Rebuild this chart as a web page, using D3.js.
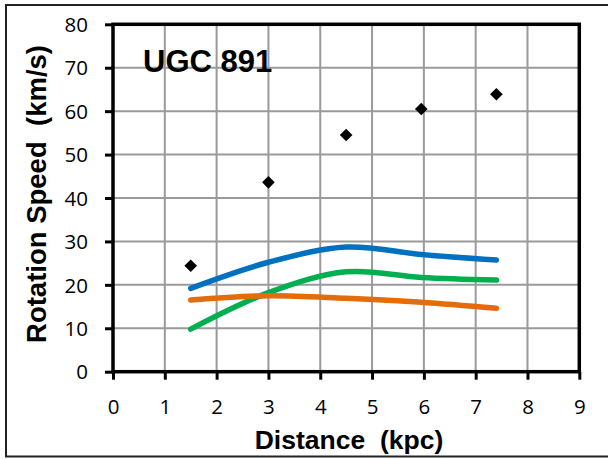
<!DOCTYPE html>
<html><head><meta charset="utf-8">
<script src="https://cdn.jsdelivr.net/npm/d3@7"></script>
<style>
html,body{margin:0;padding:0;background:#fff;}
svg{display:block;}
</style></head>
<body>
<svg id="c" width="608" height="459"></svg>
<script>
const title = "UGC 891";
const xLabel = "Distance  (kpc)";
const yLabel = "Rotation Speed  (km/s)";
const xTicks = [0,1,2,3,4,5,6,7,8,9];
const yTicks = [0,10,20,30,40,50,60,70,80];
const radius = [1.5, 3.0, 4.5, 5.95, 7.4];
const observed = [24.4, 43.6, 54.5, 60.5, 63.9];
const blueCurve = [19.2, 25.2, 28.7, 27.0, 25.7];
const greenCurve = [9.8, 18.2, 23.0, 21.7, 21.1];
const orangeCurve = [16.5, 17.5, 16.9, 16.0, 14.6];

const svg = d3.select("#c");
const L = 113, R = 579.3, T = 24.3, B = 371.7;
const x = d3.scaleLinear().domain([0,9]).range([L,R]);
const y = d3.scaleLinear().domain([0,80]).range([B,T]);

// outer frame
svg.append("rect").attr("x",6).attr("y",5).attr("width",620).attr("height",451.5)
  .attr("fill","none").attr("stroke","#222").attr("stroke-width",2);

// gridlines
const g = svg.append("g");
g.selectAll(".vx").data(xTicks).join("line")
  .attr("x1",d=>x(d)).attr("x2",d=>x(d)).attr("y1",T).attr("y2",B)
  .attr("stroke","#9a9a9a").attr("stroke-width",2);
g.selectAll(".hy").data(yTicks).join("line")
  .attr("x1",L).attr("x2",R).attr("y1",d=>y(d)).attr("y2",d=>y(d))
  .attr("stroke","#9a9a9a").attr("stroke-width",2);

// axes
const xa = svg.append("g").attr("transform",`translate(0,${B})`)
  .call(d3.axisBottom(x).tickValues(xTicks).tickSize(8).tickPadding(20).tickFormat(d3.format("d")));
const ya = svg.append("g").attr("transform",`translate(${L},0)`)
  .call(d3.axisLeft(y).tickValues(yTicks).tickSize(8).tickPadding(17).tickFormat(d3.format("d")));
[xa,ya].forEach(a=>{
  a.select(".domain").remove();
  a.selectAll(".tick line").attr("stroke","#000").attr("stroke-width",3);
  a.selectAll(".tick text").attr("font-family","'Open Sans', Lato, sans-serif")
    .attr("font-size",20.5).attr("fill","#000");
});
xa.selectAll(".tick text").attr("dy","0.71em");
ya.selectAll(".tick text").attr("dy","0.35em");

// plot border
svg.append("rect").attr("x",L).attr("y",T).attr("width",R-L).attr("height",B-T)
  .attr("fill","none").attr("stroke","#000").attr("stroke-width",3.5);

// curves
const line = d3.line().x((d,i)=>x(radius[i])).y(d=>y(d)).curve(d3.curveCatmullRom.alpha(0.5));
[[blueCurve,"#0070C0"],[greenCurve,"#00B050"],[orangeCurve,"#E46C0A"]].forEach(([vals,col])=>{
  svg.append("path").attr("d",line(vals)).attr("fill","none").attr("stroke",col)
    .attr("stroke-width",5.5).attr("stroke-linecap","round").attr("stroke-linejoin","round");
});

// observed points
svg.selectAll(".pt").data(observed).join("path")
  .attr("d",d3.symbol().type(d3.symbolSquare).size(80))
  .attr("transform",(d,i)=>`translate(${x(radius[i])},${y(d)}) rotate(45)`)
  .attr("fill","#000");

// texts
svg.append("text").attr("x",143).attr("y",72).text(title)
  .attr("font-family","'Liberation Sans', Arial, sans-serif").attr("font-weight","bold")
  .attr("font-size",31).attr("fill","#000");
svg.append("text").attr("x",349).attr("y",449).attr("text-anchor","middle").text(xLabel)
  .attr("font-family","'Liberation Sans', Arial, sans-serif").attr("font-weight","bold")
  .attr("font-size",26.5).attr("fill","#000").style("white-space","pre");
svg.append("text").attr("transform","translate(46,194) rotate(-90)").attr("text-anchor","middle").text(yLabel)
  .attr("font-family","'Liberation Sans', Arial, sans-serif").attr("font-weight","bold")
  .attr("font-size",27.5).attr("fill","#000").style("white-space","pre");
</script>
</body></html>
